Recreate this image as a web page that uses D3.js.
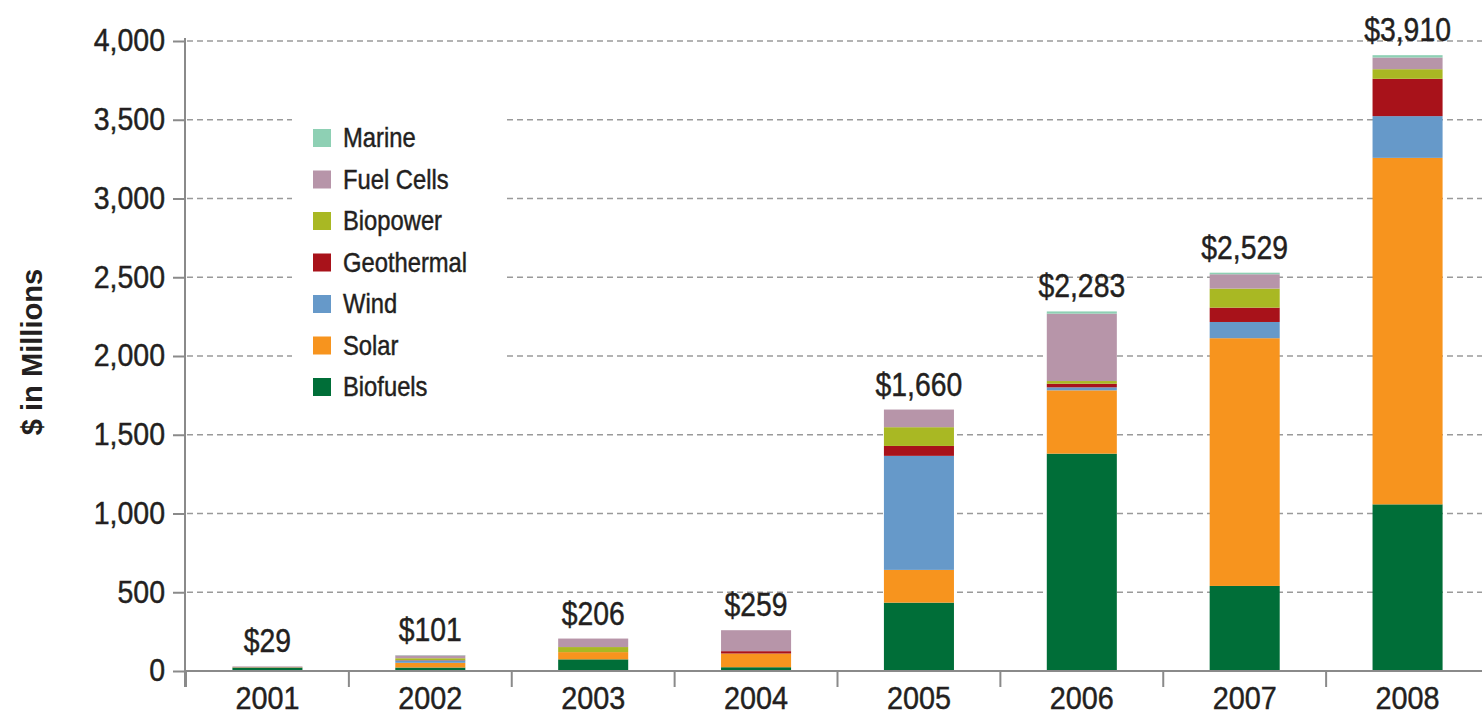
<!DOCTYPE html>
<html>
<head>
<meta charset="utf-8">
<script src="https://cdn.jsdelivr.net/npm/d3@7"></script>
<style>
  html, body { margin: 0; padding: 0; background: #fff; }
  svg { display: block; }
  text { font-family: "Liberation Sans", Arial, sans-serif; fill: #231f20; }
  text.thick { stroke: #231f20; stroke-width: 0.45px; }
</style>
</head>
<body>
<svg id="chart" width="1482" height="717"></svg>
<script>
const years = ["2001", "2002", "2003", "2004", "2005", "2006", "2007", "2008"];
const totals = [29, 101, 206, 259, 1660, 2283, 2529, 3910];
const biofuels   = [22, 22, 74, 24, 434, 1380, 540, 1058];
const solar      = [2, 30, 46, 87, 208, 402, 1573, 2200];
const wind       = [0, 15, 0, 0, 724, 19, 103, 265];
const geothermal = [0, 2, 0, 15, 63, 23, 91, 237];
const biopower   = [0, 12, 32, 0, 119, 17, 121, 61];
const fuelCells  = [5, 18, 54, 133, 112, 428, 91, 74];
const marine     = [0, 2, 0, 0, 0, 14, 10, 15];
const seriesNames = ["Biofuels", "Solar", "Wind", "Geothermal", "Biopower", "Fuel Cells", "Marine"];
const yTicks = [0, 500, 1000, 1500, 2000, 2500, 3000, 3500, 4000];

const seriesValues = [biofuels, solar, wind, geothermal, biopower, fuelCells, marine];
const colors = ["#006e38", "#f7941e", "#6699c9", "#a8121a", "#a9b823", "#b795a9", "#8ed0b4"];

const table = years.map((y, i) => {
  const row = { year: y, total: totals[i] };
  seriesNames.forEach((s, k) => row[s] = seriesValues[k][i]);
  return row;
});

const svg = d3.select("#chart");
svg.append("rect").attr("width", 1482).attr("height", 717).attr("fill", "#fff");

const y = d3.scaleLinear().domain([0, 4000]).range([671, 41]);
const x = d3.scaleBand().domain(years).range([186, 1489]).paddingInner(0.57).paddingOuter(0.285);
const color = d3.scaleOrdinal().domain(seriesNames).range(colors);

const axisX = 185;

// gridlines
svg.append("g").selectAll("line").data(yTicks.filter(d => d > 0)).join("line")
  .attr("x1", axisX + 2).attr("x2", 1482)
  .attr("y1", d => y(d)).attr("y2", d => y(d))
  .attr("stroke", "#9a9a9a").attr("stroke-width", 1.6)
  .attr("stroke-dasharray", "6,4");

// legend background hides gridlines
const legendG = svg.append("g");
legendG.append("rect").attr("x", 292).attr("y", 108).attr("width", 212).attr("height", 300).attr("fill", "#fff");

// bars
const stacked = d3.stack().keys(seriesNames)(table);
svg.append("g").selectAll("g").data(stacked).join("g")
  .attr("fill", d => color(d.key))
  .selectAll("rect").data(d => d).join("rect")
  .attr("x", d => x(d.data.year))
  .attr("width", x.bandwidth())
  .attr("y", d => y(d[1]))
  .attr("height", d => Math.max(0, y(d[0]) - y(d[1])));

// total labels (condensed look via horizontal scale)
svg.append("g").selectAll("text").data(table).join("text")
  .attr("class", "thick")
  .attr("transform", d => `translate(${x(d.year) + x.bandwidth() / 2},${y(d.total) - 14}) scale(0.86,1)`)
  .attr("text-anchor", "middle")
  .attr("font-size", 33)
  .text(d => "$" + d3.format(",")(d.total));

// y axis
const ySx = 0.92;
const yAxis = d3.axisLeft(y).tickValues(yTicks).tickFormat(d3.format(",")).tickSize(12).tickPadding(8);
const gy = svg.append("g").attr("transform", `translate(${axisX},0)`).call(yAxis);
gy.select(".domain").remove();
gy.selectAll(".tick line").attr("stroke", "#8a8a8a").attr("stroke-width", 2);
gy.selectAll(".tick text").attr("class", "thick").attr("font-size", 31).attr("fill", "#231f20")
  .attr("font-family", '"Liberation Sans", Arial, sans-serif')
  .attr("x", -20 / ySx).attr("transform", `scale(${ySx},1)`);
svg.append("line").attr("x1", axisX).attr("x2", axisX).attr("y1", 38).attr("y2", 687)
  .attr("stroke", "#8a8a8a").attr("stroke-width", 2);

// x axis
const xAxis = d3.axisBottom(x).tickSize(0).tickPadding(15);
const gx = svg.append("g").attr("transform", `translate(0,${y(0)})`).call(xAxis);
gx.select(".domain").remove();
gx.selectAll(".tick text").attr("class", "thick").attr("font-size", 32).attr("fill", "#231f20")
  .attr("font-family", '"Liberation Sans", Arial, sans-serif')
  .attr("transform", "scale(0.9,1)");
svg.append("line").attr("x1", axisX).attr("x2", 1482).attr("y1", y(0)).attr("y2", y(0))
  .attr("stroke", "#8a8a8a").attr("stroke-width", 2);
const boundaries = d3.range(years.length + 1).map(i => x.range()[0] + i * x.step());
svg.append("g").selectAll("line").data(boundaries).join("line")
  .attr("x1", d => d).attr("x2", d => d)
  .attr("y1", y(0)).attr("y2", y(0) + 16)
  .attr("stroke", "#8a8a8a").attr("stroke-width", 2);

// y title
svg.append("text")
  .attr("transform", "translate(42,352) rotate(-90) scale(0.97,1)")
  .attr("text-anchor", "middle")
  .attr("font-size", 30).attr("font-weight", "bold")
  .text("$ in Millions");

// legend
const legendOrder = seriesNames.slice().reverse();
const li = legendG.selectAll("g.item").data(legendOrder).join("g").attr("class", "item")
  .attr("transform", (d, i) => `translate(313,${129 + i * 41.5})`);
li.append("rect").attr("width", 18).attr("height", 18).attr("fill", d => color(d));
li.append("text").attr("class", "thick").attr("transform", "translate(30,18) scale(0.88,1)").attr("font-size", 27).text(d => d);
</script>
</body>
</html>
